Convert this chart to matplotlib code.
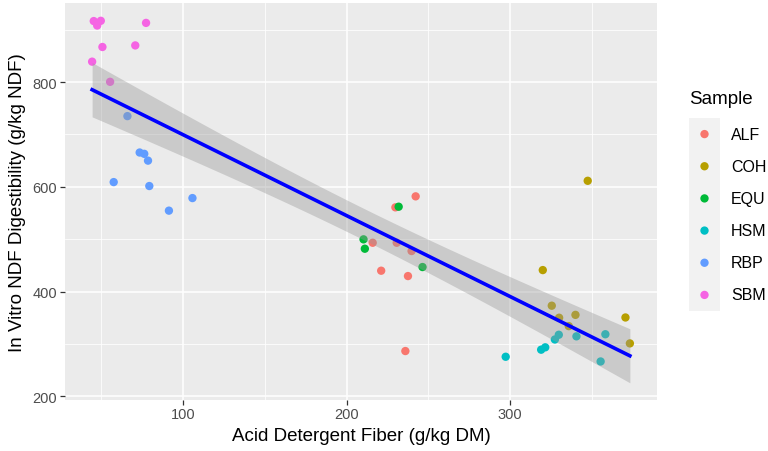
import numpy as np
import matplotlib
matplotlib.use("Agg")
import matplotlib.pyplot as plt

plt.rcParams['font.family'] = ['Liberation Sans', 'DejaVu Sans']

samples = ['ALF', 'COH', 'EQU', 'HSM', 'RBP', 'SBM']
colors = ['#F8766D', '#B79F00', '#00BA38', '#00BFC4', '#619CFF', '#F564E3']

adf = {
    'ALF': [242.3, 229.9, 216.0, 230.7, 239.8, 221.2, 237.6, 236.0],
    'COH': [347.6, 320.1, 325.6, 330.1, 340.1, 336.0, 370.7, 373.4],
    'EQU': [231.9, 210.4, 211.2, 246.5],
    'HSM': [297.4, 319.1, 321.6, 327.5, 329.9, 340.7, 358.4, 355.5],
    'RBP': [65.9, 73.4, 76.2, 78.5, 57.5, 79.3, 105.7, 91.3],
    'SBM': [45.3, 47.4, 49.6, 77.3, 50.6, 70.7, 44.3, 55.3],
}
ivndfd = {
    'ALF': [581.8, 560.8, 493.2, 493.2, 477.4, 439.8, 429.6, 286.4],
    'COH': [611.5, 441.0, 373.0, 350.0, 355.5, 334.0, 350.5, 301.0],
    'EQU': [562.0, 499.7, 481.8, 446.8],
    'HSM': [275.5, 289.0, 293.5, 308.5, 317.5, 314.5, 318.5, 266.5],
    'RBP': [735.0, 665.5, 663.0, 650.0, 609.0, 601.5, 578.5, 554.5],
    'SBM': [916.5, 908.0, 917.0, 913.0, 867.0, 870.0, 839.0, 800.5],
}

W, H = 768, 452
fig = plt.figure(figsize=(W / 100, H / 100), dpi=100)
ax = fig.add_axes([65 / W, 1 - 400.7 / H, (657 - 65) / W, (400.7 - 4) / H])
ax.set_facecolor('#EBEBEB')
for s in ax.spines.values():
    s.set_visible(False)

for s, c in zip(samples, colors):
    ax.scatter(adf[s], ivndfd[s], s=36, color=c, edgecolors='none', zorder=3)

# linear fit with 95% confidence band
x = np.concatenate([adf[s] for s in samples])
y = np.concatenate([ivndfd[s] for s in samples])
n = len(x)
b, a = np.polyfit(x, y, 1)
resid = y - (a + b * x)
sigma = np.sqrt(np.sum(resid ** 2) / (n - 2))
xs = np.linspace(x.min(), x.max(), 80)
ys = a + b * xs
se = sigma * np.sqrt(1 / n + (xs - x.mean()) ** 2 / np.sum((x - x.mean()) ** 2))
t = 2.013
ax.fill_between(xs, ys - t * se, ys + t * se, color='#999999', alpha=0.4,
                linewidth=0, zorder=4)
ax.plot(xs, ys, color='#0000FF', linewidth=2.6, zorder=5)

ax.set_xlim(27.7, 390)
ax.set_ylim(193.5, 951)
ax.set_xticks([100, 200, 300])
ax.set_yticks([200, 400, 600, 800])
ax.set_xticks([50, 150, 250, 350], minor=True)
ax.set_yticks([300, 500, 700, 900], minor=True)
ax.grid(True, which='major', color='white', linewidth=1.1, zorder=0)
ax.grid(True, which='minor', color='white', linewidth=0.55, zorder=0)
ax.set_axisbelow(True)
ax.tick_params(which='major', length=3.5, width=0.9, color='#333333',
               labelcolor='#4D4D4D', labelsize=10.5, pad=2)
ax.tick_params(which='minor', length=0)

ax.set_xlabel('Acid Detergent Fiber (g/kg DM)', fontsize=13.5, color='black', labelpad=4)
ax.set_ylabel('In Vitro NDF Digestibility (g/kg NDF)', fontsize=13.5, color='black', labelpad=5)

# legend
fig.text(689 / W, 1 - 100 / H, 'Sample', fontsize=13.5, va='center', ha='left')
lax = fig.add_axes([689 / W, 1 - 312 / H, 31 / W, (312 - 119) / H])
lax.set_facecolor('#F2F2F2')
lax.set_xlim(0, 1)
lax.set_ylim(0, 6)
lax.set_xticks([])
lax.set_yticks([])
for sp in lax.spines.values():
    sp.set_visible(False)
for i, (s, c) in enumerate(zip(samples, colors)):
    yy = 5.5 - i
    lax.scatter([0.5], [yy], s=36, color=c, edgecolors='none')
    fig.text(731 / W, 1 - (119 + (i + 0.5) * (312 - 119) / 6) / H, s,
             fontsize=11.5, va='center', ha='left')

fig.savefig('out.png', dpi=100)
